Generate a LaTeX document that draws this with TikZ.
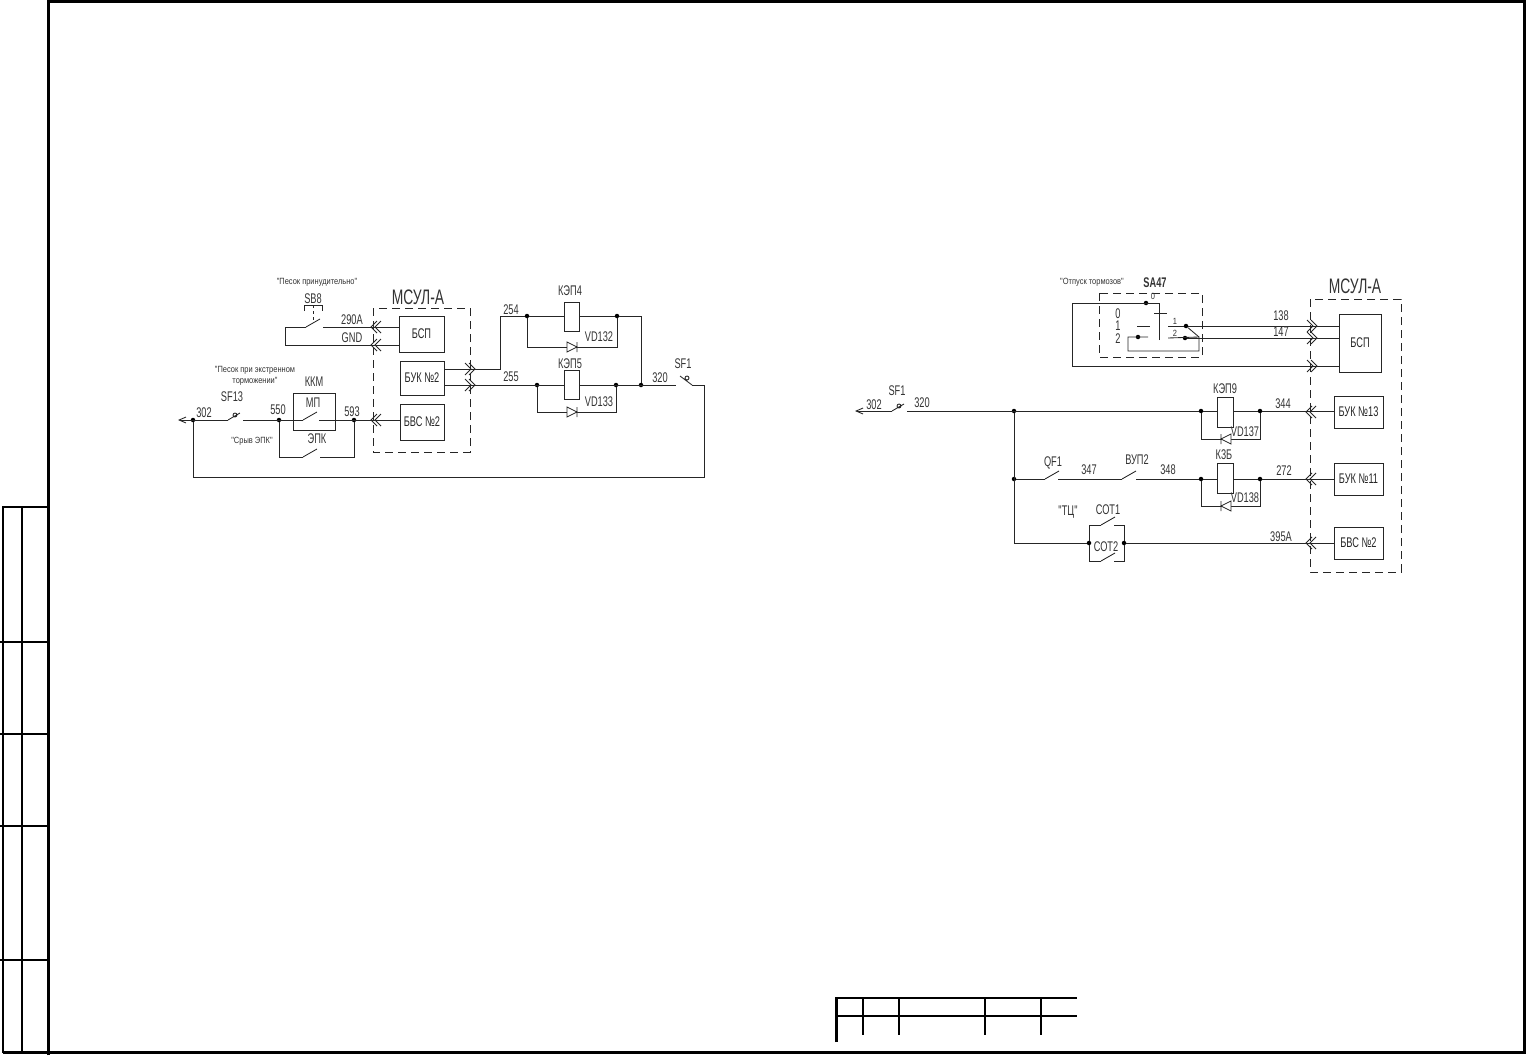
\documentclass[tikz,border=0pt]{standalone}
\usepackage{fontspec}
\newfontfamily\gost[FakeStretch=0.66]{Liberation Sans}
\newfontfamily\gostwide[FakeStretch=0.83]{Liberation Sans}
\usetikzlibrary{positioning,arrows.meta}
\tikzset{
  wire/.style={line width=.85pt,black!85},
  tipwire/.style={wire,{Straight Barb[length=7pt,width=6pt]}-},
  frameline/.style={line width=3pt,black},
  tableline/.style={line width=2.4pt,black},
  dashbox/.style={draw,dashed,dash pattern=on 8pt off 5pt,line width=.85pt,black!85},
  block/.style={draw,line width=.85pt,black!85,fill=white,inner sep=0pt,font=\gost\fontsize{14}{15}\selectfont},
  dot/.style={circle,fill=black,inner sep=0pt,minimum size=4.5pt},
  lbl/.style={inner sep=0pt,text=black!80,font=\gost\fontsize{14}{15}\selectfont},
  biglbl/.style={inner sep=0pt,text=black!80,font=\gost\fontsize{21}{22}\selectfont},
  tinylbl/.style={inner sep=0pt,text=black!80,align=center,font=\gostwide\fontsize{9}{11}\selectfont},
  plugl/.pic={\draw[wire] (6,-6) -- (0,0) -- (6,6) (10,-6) -- (4,0) -- (10,6);},
  plugr/.pic={\draw[wire] (-6,-6) -- (0,0) -- (-6,6) (-10,-6) -- (-4,0) -- (-10,6);},
  blade/.pic={\draw[wire] (0,0) -- (14,-8);},
  breaker/.pic={\draw[wire] (0,0) -- (12,-7) (7,-5) circle (2);},
  diodel/.pic={\draw[wire,fill=white] (0,0) -- (10,-5) -- (10,5) -- cycle (0,-5) -- (0,5);},
  dioder/.pic={\draw[wire,fill=white] (10,0) -- (0,-5) -- (0,5) -- cycle (10,-5) -- (10,5);}
}
\begin{document}
\begin{tikzpicture}[x=1pt,y=-1pt]
  \useasboundingbox (0,0) rectangle (1526,1055);

  % frame and tables
  \draw[frameline] (48,1055) -- (48,1.5) -- (1524.5,1.5) -- (1524.5,1052.5) -- (3,1052.5);
  \draw[tableline] (3,1053) -- (3,507) -- (48,507);
  \draw[tableline] (22,507) -- (22,1053);
  \foreach \yy in {642,734,826,960}
    \draw[tableline] (0,\yy) -- (48,\yy);
  \draw[tableline] (836.5,1042) -- (836.5,998) -- (1077,998);
  \draw[tableline] (836.5,1016) -- (1077,1016);
  \foreach \xx in {863,899,985,1041}
    \draw[tableline] (\xx,998) -- (\xx,1035);

  % left circuit, unit
  \draw[dashbox] (373,308) rectangle (470,452);
  \node[biglbl] (msulL) at (418,297) {МСУЛ-А};
  \node[block,minimum width=45pt,minimum height=36pt] (bspL) at (421.5,334) {БСП};
  \node[block,minimum width=44pt,minimum height=34pt] (bukL) at (422,378) {БУК №2};
  \node[block,minimum width=44pt,minimum height=36pt] (bvsL) at (422,422) {БВС №2};

  % left circuit, points
  \coordinate (a1) at (285,327);
  \coordinate (a2) at (306,327);
  \coordinate (a3) at (323,327);
  \coordinate (a4) at (285,345);
  \coordinate (tipL) at (178,420);
  \coordinate (b1) at (228,420);
  \coordinate (b2) at (243,420);
  \coordinate (b3) at (303,420);
  \coordinate (b4) at (319,420);
  \coordinate (b5) at (303,457);
  \coordinate (b6) at (320,457);
  \coordinate (c1) at (500,369);
  \coordinate (c2) at (500,316);
  \coordinate (c3) at (641,316);
  \coordinate (c4) at (676,385);
  \coordinate (c5) at (692,385);
  \coordinate (c6) at (704,385);
  \coordinate (c7) at (704,477);
  \coordinate (c8) at (193,477);
  \node[dot] (j302) at (193,420) {};
  \node[dot] (j550) at (279,420) {};
  \node[dot] (j593) at (354,420) {};
  \node[dot] (j254) at (527,316) {};
  \node[dot] (j132) at (617,316) {};
  \node[dot] (j255) at (537,385) {};
  \node[dot] (j133) at (616,385) {};
  \node[dot] (j320) at (641,385) {};

  % left circuit, wires
  \draw[wire] (a3) -- (a3 -| bspL.west);
  \draw[wire] (a2) -- (a1) -- (a4) -- (a4 -| bspL.west);
  \draw[tipwire] (tipL) -- (b1);
  \draw[wire] (b2) -- (b3) (b4) -- (b4 -| bvsL.west);
  \draw[wire] (j550) |- (b5) (b6) -| (j593);
  \draw[wire] (j302) -- (c8) -- (c7) -- (c6) -- (c5);
  \draw[wire] (bukL.east |- c1) -- (c1) -- (c2) -- (j254) -- (j132) -- (c3) -- (j320);
  \draw[wire] (bukL.east |- c4) -- (c4);
  \draw[wire] (j254) |- (617,347) -- (j132);
  \draw[wire] (j255) |- (616,412) -- (j133);

  % left circuit, relays and contacts
  \node[block,minimum width=15pt,minimum height=29pt] (kep4) at (572,316.5) {};
  \node[block,minimum width=15pt,minimum height=29pt] (kep5) at (571.5,385) {};
  \draw[wire] (304,311) -- (304,305) -- (322,305) -- (322,311);
  \draw[wire,dashed] (313,305) -- (313,321);
  \pic at (a2) {blade};
  \pic at (b1) {breaker};
  \pic at (b3) {blade};
  \pic at (b5) {blade};
  \pic at (567,347) {dioder};
  \pic at (567,412) {dioder};
  \draw[wire] (c5) -- (680,376) (687,378) circle (2);
  \foreach \yy in {327,345,420}
    \pic at (371,\yy) {plugl};
  \foreach \yy in {369,385}
    \pic at (475,\yy) {plugr};
  \node[draw,wire,minimum width=42pt,minimum height=37pt,inner sep=0pt] (kkm) at (314,411.5) {};

  % left circuit, labels
  \node[tinylbl] (t1) at (317,282) {"Песок принудительно"};
  \node[tinylbl] (t2) at (255,376) {"Песок при экстренном\\торможении"};
  \node[tinylbl] (t3) at (252,441) {"Срыв ЭПК"};
  \node[lbl] (t4) at (313,299) {SB8};
  \node[lbl] (t5) at (352,320) {290A};
  \node[lbl] (t6) at (352,338) {GND};
  \node[lbl] (t7) at (204,413) {302};
  \node[lbl] (t8) at (232,397) {SF13};
  \node[lbl] (t9) at (278,410) {550};
  \node[lbl] (t10) at (352,412) {593};
  \node[lbl] (t11) at (314,382) {ККМ};
  \node[lbl] (t12) at (313,403) {МП};
  \node[lbl] (t13) at (317,439) {ЭПК};
  \node[lbl] (t14) at (511,310) {254};
  \node[lbl] (t15) at (511,377) {255};
  \node[lbl] (t16) at (570,291) {КЭП4};
  \node[lbl] (t17) at (570,364) {КЭП5};
  \node[lbl] (t18) at (599,337) {VD132};
  \node[lbl] (t19) at (599,402) {VD133};
  \node[lbl] (t20) at (660,378) {320};
  \node[lbl] (t21) at (683,364) {SF1};

  % right circuit, units
  \draw[dashbox] (1310,299) rectangle (1401,572);
  \draw[dashbox] (1099,293) rectangle (1202,357);
  \node[biglbl] (msulR) at (1355,286) {МСУЛ-А};
  \node[block,minimum width=42pt,minimum height=58pt] (bspR) at (1360,343) {БСП};
  \node[block,minimum width=49pt,minimum height=32pt] (buk13) at (1358.5,412) {БУК №13};
  \node[block,minimum width=49pt,minimum height=32pt] (buk11) at (1358.5,479) {БУК №11};
  \node[block,minimum width=49pt,minimum height=32pt] (bvsR) at (1358.5,543) {БВС №2};

  % right circuit, points
  \coordinate (d1) at (1072,303);
  \coordinate (d2) at (1159,303);
  \coordinate (d3) at (1159,340);
  \coordinate (d4) at (1072,366);
  \coordinate (d5) at (1128,337);
  \coordinate (d6) at (1148,337);
  \coordinate (d7) at (1128,351);
  \coordinate (d8) at (1199,351);
  \coordinate (d9) at (1199,337);
  \coordinate (d10) at (1168,326);
  \coordinate (d11) at (1168,338);
  \coordinate (tipR) at (855,411);
  \coordinate (e1) at (892,411);
  \coordinate (e2) at (907,411);
  \coordinate (e3) at (1045,479);
  \coordinate (e4) at (1058,479);
  \coordinate (e5) at (1122,479);
  \coordinate (e6) at (1136,479);
  \coordinate (f1) at (1101,525);
  \coordinate (f2) at (1114,525);
  \coordinate (f3) at (1101,561);
  \coordinate (f4) at (1114,561);
  \node[dot] (j0) at (1146,303) {};
  \node[dot] (j2) at (1138,337) {};
  \node[dot] (j138) at (1186,326) {};
  \node[dot] (j147) at (1185,338) {};
  \node[dot] (j320r) at (1014,411) {};
  \node[dot] (jqf) at (1014,479) {};
  \node[dot] (j137a) at (1201,411) {};
  \node[dot] (j137b) at (1260,411) {};
  \node[dot] (j138a) at (1201,479) {};
  \node[dot] (j138b) at (1260,479) {};
  \node[dot] (jc1) at (1089,543) {};
  \node[dot] (jc2) at (1124,543) {};

  % right circuit, wires
  \draw[wire] (d3) -- (d2) -- (d1) -- (d4) -- (d4 -| bspR.west);
  \draw[wire] (d6) -- (d5) -- (d7) -- (d8) -- (d9) -- (j138);
  \draw[wire] (d9) -- (d11);
  \draw[wire] (d10) -- (j138) -- (j138 -| bspR.west);
  \draw[wire] (j147) -- (j147 -| bspR.west);
  \draw[wire] (1154,313) -- (1167,313) (1137,326) -- (1150,326);
  \draw[tipwire] (tipR) -- (e1);
  \draw[wire] (e2) -- (j137a) (j137b) -- (j137b -| buk13.west);
  \draw[wire] (j320r) -- (jc1 -| j320r) -- (jc1);
  \draw[wire] (jqf) -- (e3) (e4) -- (e5) (e6) -- (j138a) (j138b) -- (j138b -| buk11.west);
  \draw[wire] (j137a) -- (j137b);
  \draw[wire] (j138a) -- (j138b);
  \draw[wire] (j137a) |- (1260,439) -- (j137b);
  \draw[wire] (j138a) |- (1260,506) -- (j138b);
  \draw[wire] (jc1) |- (f1) (f2) -| (jc2);
  \draw[wire] (jc1) |- (f3) (f4) -| (jc2);
  \draw[wire] (jc2) -- (jc2 -| bvsR.west);

  % right circuit, relays and contacts
  \node[block,minimum width=16pt,minimum height=30pt] (kep9) at (1225,412) {};
  \node[block,minimum width=16pt,minimum height=30pt] (k36) at (1225,478) {};
  \pic at (e1) {breaker};
  \pic at (e3) {blade};
  \pic at (e5) {blade};
  \pic at (f1) {blade};
  \pic at (f3) {blade};
  \pic at (1221,439) {diodel};
  \pic at (1221,506) {diodel};
  \foreach \yy in {326,338,366}
    \pic at (1317,\yy) {plugr};
  \foreach \yy in {412,479,543}
    \pic at (1306,\yy) {plugl};

  % right circuit, labels
  \node[tinylbl] (t30) at (1092,282) {"Отпуск тормозов"};
  \node[lbl,font=\gost\bfseries\fontsize{14}{15}\selectfont] (t31) at (1155,283) {SA47};
  \node[tinylbl] (t32) at (1153,296) {0};
  \node[lbl] (t33) at (1118,314) {0};
  \node[lbl] (t34) at (1118,326) {1};
  \node[lbl] (t35) at (1118,339) {2};
  \node[tinylbl] (t36) at (1175,321) {1};
  \node[tinylbl] (t37) at (1175,333) {2};
  \node[lbl] (t38) at (1281,316) {138};
  \node[lbl] (t39) at (1281,332) {147};
  \node[lbl] (t40) at (874,405) {302};
  \node[lbl] (t41) at (897,391) {SF1};
  \node[lbl] (t42) at (922,403) {320};
  \node[lbl] (t43) at (1053,463) {QF1};
  \node[lbl] (t44) at (1089,470) {347};
  \node[lbl] (t45) at (1137,460) {ВУП2};
  \node[lbl] (t46) at (1168,470) {348};
  \node[lbl] (t47) at (1068,512) {"ТЦ"};
  \node[lbl] (t48) at (1108,510) {СОТ1};
  \node[lbl] (t49) at (1106,547) {СОТ2};
  \node[lbl] (t50) at (1225,389) {КЭП9};
  \node[lbl] (t51) at (1224,455) {К3Б};
  \node[lbl] (t52) at (1245,432) {VD137};
  \node[lbl] (t53) at (1245,498) {VD138};
  \node[lbl] (t54) at (1283,404) {344};
  \node[lbl] (t55) at (1284,471) {272};
  \node[lbl] (t56) at (1281,537) {395А};
\end{tikzpicture}
\end{document}
